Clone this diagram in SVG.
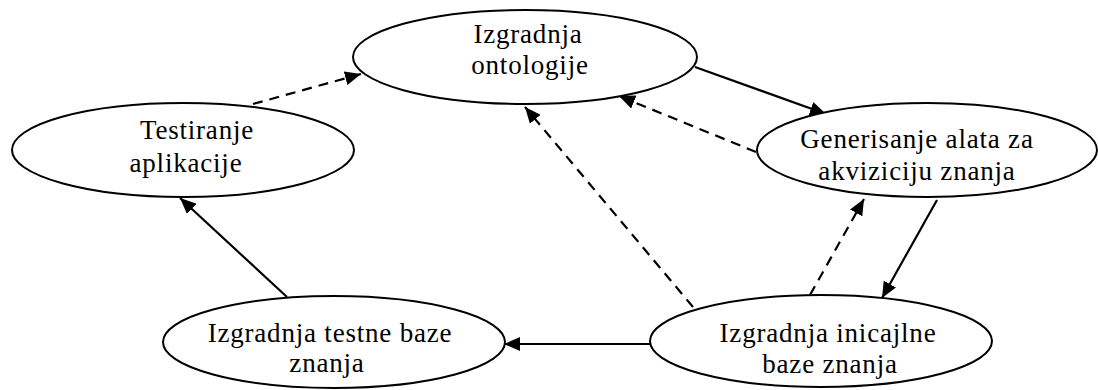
<svg xmlns="http://www.w3.org/2000/svg" width="1098" height="390" viewBox="0 0 1098 390">
  <defs>
    <marker id="arrow" markerUnits="userSpaceOnUse" markerWidth="17" markerHeight="14" refX="16" refY="7" orient="auto">
      <path d="M0,0 L16,7 L0,14 z" fill="#000"/>
    </marker>
    <style>
      .node ellipse { fill: #fff; stroke: #000; stroke-width: 2; }
      .node text { font-family: "Liberation Serif", "Times New Roman", serif; font-size: 27px; letter-spacing: 0.8px; fill: #000; text-anchor: middle; }
      .edge { fill: none; stroke: #000; stroke-width: 2.2; marker-end: url(#arrow); }
      .dashed { stroke-dasharray: 10 7; }
    </style>
  </defs>
  <rect width="1098" height="390" fill="#fff"/>

  <!-- connectors -->
  <g id="connectors">
    <line class="edge dashed" x1="253" y1="104" x2="361" y2="74"/>
    <line class="edge" x1="695" y1="67" x2="826" y2="114"/>
    <line class="edge dashed" x1="756" y1="152" x2="619" y2="96"/>
    <line class="edge dashed" x1="693" y1="307" x2="525" y2="107"/>
    <line class="edge dashed" x1="810" y1="295" x2="864" y2="199"/>
    <line class="edge" x1="937" y1="200" x2="882" y2="298"/>
    <line class="edge" x1="650" y1="344" x2="504" y2="344"/>
    <line class="edge" x1="287" y1="297" x2="180" y2="198"/>
  </g>

  <g id="ontologija" class="node">
    <ellipse cx="525" cy="57" rx="172" ry="47"/>
    <text x="528" y="43">Izgradnja</text>
    <text x="530" y="74">ontologije</text>
  </g>

  <g id="testiranje" class="node">
    <ellipse cx="183" cy="150" rx="171" ry="47"/>
    <text x="197" y="139">Testiranje</text>
    <text x="186" y="172">aplikacije</text>
  </g>

  <g id="generisanje" class="node">
    <ellipse cx="927" cy="150" rx="170" ry="47"/>
    <text x="917" y="148">Generisanje alata za</text>
    <text x="917" y="180">akviziciju znanja</text>
  </g>

  <g id="testna-baza" class="node">
    <ellipse cx="334" cy="342" rx="171" ry="46"/>
    <text x="330" y="342">Izgradnja testne baze</text>
    <text x="327" y="372">znanja</text>
  </g>

  <g id="inicijalna-baza" class="node">
    <ellipse cx="821" cy="341" rx="171" ry="46"/>
    <text x="828" y="342">Izgradnja inicajlne</text>
    <text x="830" y="373">baze znanja</text>
  </g>
</svg>
